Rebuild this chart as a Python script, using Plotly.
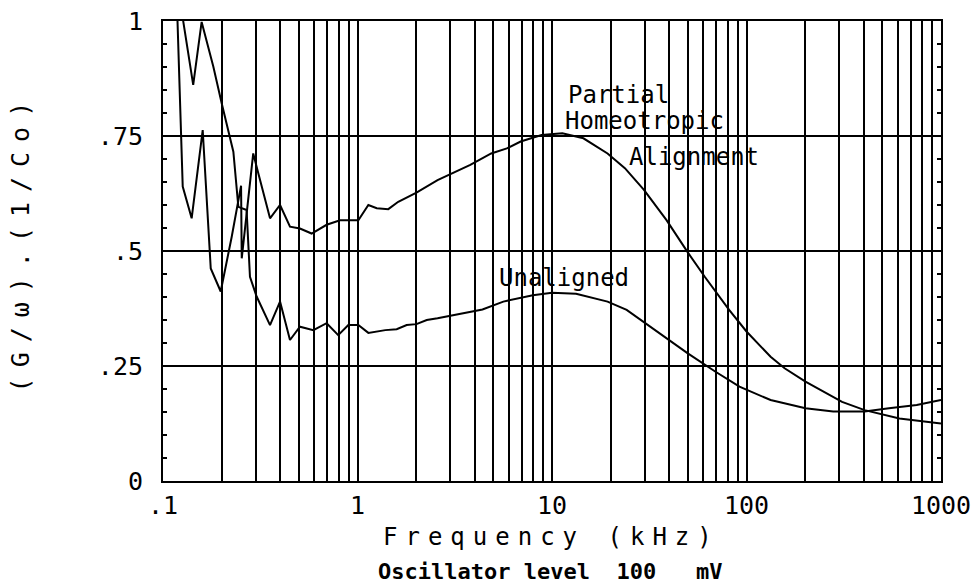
import numpy as np
import plotly.graph_objects as go

# ---------------- data ----------------
freq_partial = [0.1, 0.1263, 0.1404, 0.160, 0.176, 0.198, 0.2256, 0.252, 0.254, 0.291,
                0.309, 0.355, 0.3997, 0.4497, 0.506, 0.581, 0.694, 0.813, 0.951, 1.01,
                1.137, 1.256, 1.44, 1.62, 2.01, 2.58, 3.80, 4.87, 5.86, 6.90,
                8.84, 11.3, 14.5, 19.3, 23.7, 29.7, 38.8, 49.7, 61.0, 81.4,
                100, 133, 157, 201, 310, 405, 611, 1000]
g_partial = [2.0, 0.640, 0.571, 0.763, 0.462, 0.412, 0.531, 0.642, 0.484, 0.712,
             0.669, 0.571, 0.600, 0.553, 0.549, 0.538, 0.557, 0.567, 0.567, 0.567,
             0.600, 0.593, 0.591, 0.607, 0.627, 0.654, 0.687, 0.712, 0.723, 0.738,
             0.752, 0.756, 0.745, 0.712, 0.680, 0.633, 0.567, 0.498, 0.444, 0.372,
             0.325, 0.270, 0.245, 0.216, 0.172, 0.154, 0.136, 0.125]

freq_unaligned = [0.1, 0.143, 0.158, 0.1814, 0.2003, 0.23, 0.244, 0.269, 0.280, 0.303,
                  0.355, 0.3997, 0.4497, 0.506, 0.593, 0.694, 0.796, 0.897, 1.01, 1.137,
                  1.39, 1.59, 1.79, 2.01, 2.27, 2.58, 4.39, 5.62, 7.97, 10,
                  13.3, 19.3, 24.2, 30.3, 38.8, 49.7, 69, 92, 133, 201,
                  279, 405, 540, 750, 1000]
g_unaligned = [1.28, 0.861, 0.998, 0.901, 0.821, 0.716, 0.596, 0.589, 0.444, 0.401,
               0.339, 0.390, 0.3065, 0.3355, 0.328, 0.343, 0.317, 0.339, 0.339, 0.322,
               0.328, 0.330, 0.339, 0.341, 0.350, 0.354, 0.373, 0.390, 0.404, 0.409,
               0.407, 0.390, 0.372, 0.343, 0.310, 0.278, 0.238, 0.205, 0.176, 0.158,
               0.151, 0.151, 0.158, 0.165, 0.176]

x_tick_vals = [0.1, 1, 10, 100, 1000]
x_tick_text = [".1", "1", "10", "100", "1000"]
y_tick_vals = [0, 0.25, 0.5, 0.75, 1]
y_tick_text = ["0", ".25", ".5", ".75", "1"]
x_minor_mult = [2, 3, 4, 5, 6, 7, 8, 9]
x_decades = [0.1, 1, 10, 100]

curve_labels = ["Partial", "Homeotropic", "Alignment", "Unaligned"]
label_freq = [11.8, 11.4, 24.3, 5.2]
label_g = [0.84, 0.782, 0.704, 0.442]

x_title = "Frequency (kHz)"
y_title = "(G/ω).(1/Co)"
subtitle = "Oscillator level  100   mV"

FONT = "DejaVu Sans Mono"
x_minor_vals = [m * d for d in x_decades for m in x_minor_mult]

fig = go.Figure()
fig.add_trace(go.Scatter(x=freq_partial, y=g_partial, mode="lines",
                         line=dict(color="black", width=2), name="Partial Homeotropic Alignment"))
fig.add_trace(go.Scatter(x=freq_unaligned, y=g_unaligned, mode="lines",
                         line=dict(color="black", width=2), name="Unaligned"))

annotations = []
for txt, f, g in zip(curve_labels, label_freq, label_g):
    annotations.append(dict(x=np.log10(f), y=g, xref="x", yref="y", text=txt,
                            showarrow=False, xanchor="left", yanchor="middle",
                            font=dict(family=FONT, size=24, color="black")))

annotations.append(dict(x=0.499, y=-0.122, xref="paper", yref="paper",
                        text='<span style="letter-spacing:8px">' + x_title + '</span>',
                        showarrow=False, xanchor="center", yanchor="middle",
                        font=dict(family=FONT, size=24, color="black")))
annotations.append(dict(x=0.497, y=-0.196, xref="paper", yref="paper",
                        text="<b>" + subtitle + "</b>",
                        showarrow=False, xanchor="center", yanchor="middle",
                        font=dict(family=FONT, size=22, color="black")))
annotations.append(dict(x=-0.183, y=0.52, xref="paper", yref="paper",
                        text='<span style="letter-spacing:10px">' + y_title + '</span>',
                        textangle=-90, showarrow=False, xanchor="center", yanchor="middle",
                        font=dict(family=FONT, size=25, color="black")))

fig.update_layout(
    width=980, height=584,
    margin=dict(l=163, r=39, t=21, b=103),
    paper_bgcolor="white", plot_bgcolor="white", showlegend=False,
    font=dict(family=FONT, color="black", size=24),
    annotations=annotations,
)
fig.update_xaxes(
    type="log", range=[-1, 3], tickmode="array", tickvals=x_tick_vals, ticktext=x_tick_text,
    showgrid=True, gridcolor="black", gridwidth=2.4, ticks="",
    showline=True, linecolor="black", linewidth=2, mirror=True, zeroline=False,
    automargin=False,
    tickfont=dict(family=FONT, size=25, color="black"), ticklabelstandoff=1,
    minor=dict(tickmode="array", tickvals=x_minor_vals, showgrid=True,
               gridcolor="black", gridwidth=2.4, ticks=""),
)
fig.update_yaxes(
    range=[0, 1], tickmode="array", tickvals=y_tick_vals, ticktext=y_tick_text,
    showgrid=True, gridcolor="black", gridwidth=1.8,
    ticks="inside", ticklen=4, tickcolor="black", tickwidth=1.5,
    showline=True, linecolor="black", linewidth=2, mirror="ticks", zeroline=False,
    automargin=False,
    tickfont=dict(family=FONT, size=25, color="black"), ticklabelstandoff=13,
    minor=dict(dtick=0.05, ticks="inside", ticklen=4, tickcolor="black", tickwidth=1.5, showgrid=False),
)

fig.write_html("out.html", config={"displayModeBar": False},
               post_script="document.body.style.margin='0px';document.body.style.overflow='hidden';")
